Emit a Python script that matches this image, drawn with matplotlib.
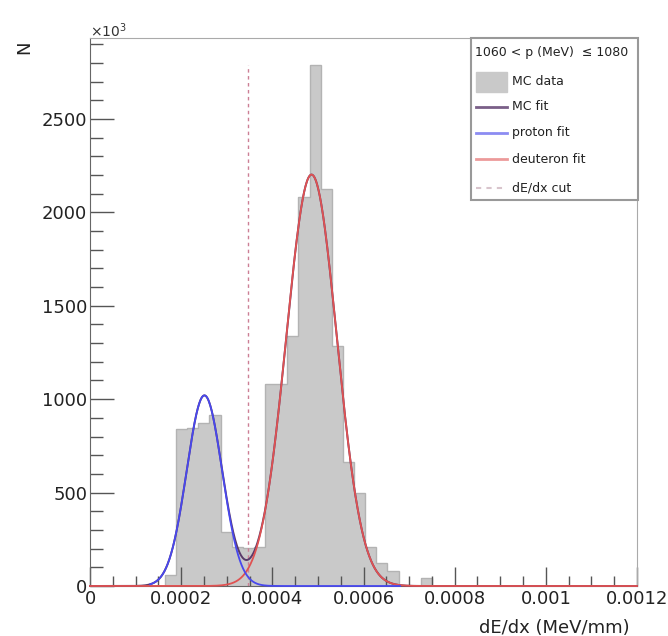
import numpy as np
import matplotlib
matplotlib.use("Agg")
import matplotlib.pyplot as plt
from matplotlib.ticker import MultipleLocator, FuncFormatter
from matplotlib.patches import Rectangle

# === Histogram (MC data) ===
bin_lo = 0.0001645
bin_width = 0.0000244
counts = [60, 840, 845, 872, 915, 290, 210, 205, 210, 1083, 1083, 1338,
          2083, 2789, 2125, 1285, 664, 498, 209, 123, 80, 0, 0, 43]

# === Gaussian fits: (amplitude, mean, sigma) ===
proton_fit = (1020, 0.000251, 0.0000388)
deuteron_fit = (2202, 0.000486, 0.0000553)
proton_range = (0.000132, 0.00068)

dedx_cut = 0.000346
x_max = 0.0012
y_max = 2933

header = "1060 < p (MeV)  \u2264 1080"
entries = ["MC data", "MC fit", "proton fit", "deuteron fit", "dE/dx cut"]

c_hist = "#c9c9c9"
c_hist_edge = "#b3b3b3"
c_mc = "#5a3a6a"
c_p = "#4848ee"
c_d = "#e05252"
c_cut = "#cc7f95"


def gauss(x, a, m, s):
    return a * np.exp(-0.5 * ((x - m) / s) ** 2)


edges = bin_lo + bin_width * np.arange(len(counts) + 1)

W, H = 668, 636
fig = plt.figure(figsize=(W / 100, H / 100), dpi=100)
ax = fig.add_axes([90 / W, 1 - 586 / H, (637 - 90) / W, (586 - 38) / H])

ax.stairs(counts, edges, fill=True, color=c_hist, zorder=1)
ax.stairs(counts, edges, color=c_hist_edge, lw=1, zorder=1.1)

xs = np.linspace(0, x_max, 1200)
xp = np.linspace(proton_range[0], proton_range[1], 600)
ax.plot(xs, gauss(xs, *proton_fit) + gauss(xs, *deuteron_fit), color=c_mc, lw=1.4,
        zorder=3, clip_on=False)
ax.plot(xs, gauss(xs, *deuteron_fit), color=c_d, lw=1.3, zorder=4, clip_on=False)
ax.plot(xp, gauss(xp, *proton_fit), color=c_p, lw=1.3, zorder=5, clip_on=False)
ax.plot([dedx_cut, dedx_cut], [0, max(counts)], color=c_cut, lw=1.0,
        linestyle=(0, (2.5, 2.5)), zorder=2)

ax.set_xlim(0, x_max)
ax.set_ylim(0, y_max)

ax.xaxis.set_major_locator(MultipleLocator(0.0002))
ax.xaxis.set_minor_locator(MultipleLocator(0.00005))
ax.yaxis.set_major_locator(MultipleLocator(500))
ax.yaxis.set_minor_locator(MultipleLocator(100))
ax.xaxis.set_major_formatter(FuncFormatter(lambda v, p: "0" if abs(v) < 1e-12 else f"{v:g}"))
ax.yaxis.set_major_formatter(FuncFormatter(lambda v, p: f"{int(round(v))}"))

ax.tick_params(axis="both", which="both", direction="in", color="#555555",
               top=False, right=False, width=1, labelsize=13, labelcolor="#222222")
ax.tick_params(axis="x", which="major", length=14, pad=3)
ax.tick_params(axis="x", which="minor", length=7)
ax.tick_params(axis="y", which="major", length=17, pad=2)
ax.tick_params(axis="y", which="minor", length=9)

for side in ["left", "bottom"]:
    ax.spines[side].set_color("#666666")
for side in ["top", "right"]:
    ax.spines[side].set_color("#aaaaaa")

fig.text(630 / W, 1 - 628 / H, "dE/dx (MeV/mm)", ha="right", va="center",
         fontsize=13, color="#222222")
fig.text(24 / W, 1 - 47 / H, "N", rotation=90, ha="center", va="center",
         fontsize=13, color="#222222")
fig.text(90 / W, 1 - 37 / H, r"$\times10^{3}$", ha="left", va="baseline",
         fontsize=10, color="#333333")

# === Legend box ===
lx0, lx1, ly0, ly1 = 471, 638, 38, 200
leg = fig.add_axes([lx0 / W, 1 - ly1 / H, (lx1 - lx0) / W, (ly1 - ly0) / H])
leg.set_xlim(0, lx1 - lx0)
leg.set_ylim(ly1 - ly0, 0)
leg.axis("off")
leg.add_patch(Rectangle((0, 0), lx1 - lx0, ly1 - ly0, facecolor="white",
                        edgecolor="#999999", lw=1.5, clip_on=False))
leg.text(4, 14.7, header, fontsize=9, va="center", ha="left", color="#222222")
row_y = [43.7, 68.7, 94.7, 121.3, 149.7]
leg.add_patch(Rectangle((5, row_y[0] - 10), 31, 20, facecolor=c_hist, edgecolor=c_hist))
leg.plot([5, 36], [row_y[1]] * 2, color="#7a5f88", lw=2)
leg.plot([5, 36], [row_y[2]] * 2, color="#8c8cf2", lw=2)
leg.plot([5, 36], [row_y[3]] * 2, color="#ec9a9a", lw=2)
leg.plot([5, 36], [row_y[4]] * 2, color="#d8c4cc", lw=1.5, linestyle=(0, (2.5, 2.5)))
for y, lab in zip(row_y, entries):
    leg.text(41, y, lab, fontsize=9, va="center", ha="left", color="#222222")

fig.savefig("out.png", dpi=100)
